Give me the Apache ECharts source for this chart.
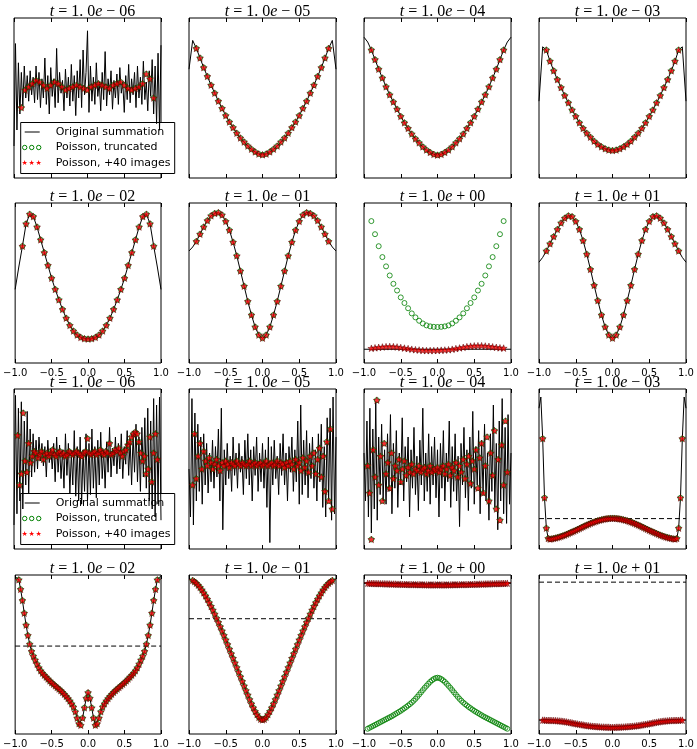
<!DOCTYPE html>
<html>
<head>
<meta charset="utf-8">
<title>Original summation vs Poisson</title>
<script src="https://cdn.jsdelivr.net/npm/echarts@6/dist/echarts.min.js"></script>
<style>
html,body{margin:0;padding:0;background:#fff}
#main{width:697px;height:749px}
</style>
</head>
<body>
<div id="main"></div>
<script>
// x grids
var xLine = [-1,-0.95,-0.9,-0.85,-0.8,-0.75,-0.7,-0.65,-0.6,-0.55,-0.5,-0.45,-0.4,-0.35,-0.3,-0.25,-0.2,-0.15,-0.1,-0.05,0,
  0.05,0.1,0.15,0.2,0.25,0.3,0.35,0.4,0.45,0.5,0.55,0.6,0.65,0.7,0.75,0.8,0.85,0.9,0.95,1];
var xBot = [-1,-0.975,-0.95,-0.925,-0.9,-0.875,-0.85,-0.825,-0.8,-0.775,-0.75,-0.725,-0.7,-0.675,-0.65,-0.625,-0.6,-0.575,-0.55,-0.525,
  -0.5,-0.475,-0.45,-0.425,-0.4,-0.375,-0.35,-0.325,-0.3,-0.275,-0.25,-0.225,-0.2,-0.175,-0.15,-0.125,-0.1,-0.075,-0.05,-0.025,0,
  0.025,0.05,0.075,0.1,0.125,0.15,0.175,0.2,0.225,0.25,0.275,0.3,0.325,0.35,0.375,0.4,0.425,0.45,0.475,0.5,
  0.525,0.55,0.575,0.6,0.625,0.65,0.675,0.7,0.725,0.75,0.775,0.8,0.825,0.85,0.875,0.9,0.925,0.95,0.975,1];
var xNoise = [-1,-0.98,-0.96,-0.94,-0.92,-0.9,-0.88,-0.86,-0.84,-0.82,-0.8,-0.78,-0.76,-0.74,-0.72,-0.7,-0.68,-0.66,-0.64,-0.62,
  -0.6,-0.58,-0.56,-0.54,-0.52,-0.5,-0.48,-0.46,-0.44,-0.42,-0.4,-0.38,-0.36,-0.34,-0.32,-0.3,-0.28,-0.26,-0.24,-0.22,
  -0.2,-0.18,-0.16,-0.14,-0.12,-0.1,-0.08,-0.06,-0.04,-0.02,0,0.02,0.04,0.06,0.08,0.1,0.12,0.14,0.16,0.18,
  0.2,0.22,0.24,0.26,0.28,0.3,0.32,0.34,0.36,0.38,0.4,0.42,0.44,0.46,0.48,0.5,0.52,0.54,0.56,0.58,
  0.6,0.62,0.64,0.66,0.68,0.7,0.72,0.74,0.76,0.78,0.8,0.82,0.84,0.86,0.88,0.9,0.92,0.94,0.96,0.98,1];
var xEnds = [-1, 1];
var xTop = xLine.slice(2, 39);   // -0.9 .. 0.9
var xMark = xBot.slice(2, 79);   // -0.95 .. 0.95

var tickValues = [-1, -0.5, 0, 0.5, 1];
var tickLabels = ['\u22121.0', '\u22120.5', '0.0', '0.5', '1.0'];
var exponents = ['\u2212 06', '\u2212 05', '\u2212 04', '\u2212 03', '\u2212 02', '\u2212 01', '+ 00', '+ 01'];
var legendNames = ['Original summation', 'Poisson, truncated', 'Poisson, +40 images'];

// top half (values in % of panel height)
var noise1_1 = [20,84,30,72,40,66,45,70,50,64, 48,67,52,63,47,70,49,66,44,62, 50,75,46,64,40,69,51,62,44,81,
  47,66,53,61,42,68,50,63,45,71, 48,64,39,67,50,74,44,80,52,66, 92,41,70,48,63,46,72,51,60,42,
  66,49,79,45,62,52,67,43,61,50, 65,46,69,53,60,41,64,49,71,47, 62,52,66,44,70,50,63,46,73,49,
  60,42,67,51,74,40,70,34,78,30, 83];
var red1_1 = [44,55,57,59,61,60,58,56,58,60,59,57,55,56,57,58,57,56,55,57,58,59,58,57,56,58,59,60,58,56,55,56,57,59,65,62,50];
var line1_2 = [68,86,81,75,69,63.5,58,53,48,43.5,39,35,31.5,28,25,22.5,20,18,16.3,15,14.5,
  15,16.3,18,20,22.5,25,28,31.5,35,39,43.5,48,53,58,63.5,69,75,81,86,68];
var line1_3 = [88,85,80,74,68,62.5,57,52,47.5,43,38.5,34.5,31,27.5,24.5,22,19.5,17.5,16,14.8,14.3,
  14.8,16,17.5,19.5,22,24.5,27.5,31,34.5,38.5,43,47.5,52,57,62.5,68,74,80,85,88];
var line1_4 = [48,82,80,73,67,61.5,56.5,51.5,47,42.5,38.5,34.5,31,28,25.5,23,21,19.5,18.3,17.5,17.2,
  17.5,18.3,19.5,21,23,25.5,28,31,34.5,38.5,42.5,47,51.5,56.5,61.5,67,73,80,82,48];
var line2_1 = [46,60,73,87,93,91.5,85,77,69,61,53,46,39.5,33.5,28,23.5,20,17.5,16,15.2,15,
  15.2,16,17.5,20,23.5,28,33.5,39.5,46,53,61,69,77,85,91.5,93,87,73,60,46];
var line2_2 = [70,72.5,76,80.5,85,89,92,93.5,94,92.5,88.5,83,75.5,67,57.5,48,38.5,30,22.5,17.5,15.5,
  17.5,22.5,30,38.5,48,57.5,67,75.5,83,88.5,92.5,94,93.5,92,89,85,80.5,76,72.5,70];
var flat2_3 = [8.6, 8.6];
var green2_3 = [88.7,80.5,73,66.2,60.4,54.7,49.5,45.3,41,37.5,34.2,31,28.5,26.4,24.7,23.5,22.9,22.6,22.5,
  22.6,22.9,23.5,24.7,26.4,28.5,31,34.2,37.5,41,45.3,49.5,54.7,60.4,66.2,73,80.5,88.7];
var red2_3 = [9.2,9.5,9.8,10,10.2,10.3,10.2,10,9.7,9.3,9,8.6,8.3,8.1,7.9,7.8,7.8,7.8,7.9,8,
  8.1,8.3,8.6,9,9.4,9.8,10.2,10.5,10.7,10.8,10.8,10.6,10.4,10.1,9.8,9.5,9.3];
var line2_4 = [63,66,70,74.5,79,83.5,87.5,90.5,92,91.5,88.5,83.5,76.5,68,58.5,48.5,39,30,22.5,17.5,15.5,
  17.5,22.5,30,39,48.5,58.5,68,76.5,83.5,88.5,91.5,92,90.5,87.5,83.5,79,74.5,70,66,63];

// bottom half
var noise3_1 = [15,96,22,88,30,92,25,80,40,86, 35,75,45,72,48,68,50,70,55,66, 52,64,45,68,54,63,50,66,42,70,
  48,65,44,62,38,72,46,66,35,60, 40,74,33,64,30,70,28,62,36,72, 30,66,34,75,38,64,32,68,40,73,
  44,62,38,67,48,76,45,63,52,70, 47,66,50,72,44,64,53,74,46,68, 40,71,48,78,42,70,36,76,45,82,
  38,88,30,80,25,94,20,90,28,95, 18];
var red3_1 = [71,40,47,85,55,48,66,54,58,61, 60,57,59,61,56,59,60,58,60,62, 59,58,60,61,59,60,58,59,61,60,
  59,60,61,60,59,58,60,61,69,60, 59,60,61,59,60,62,60,59,61,60, 66,59,60,62,61,63,60,58,61,62,
  65,67,70,72,73,72,67,60,55,58, 47,50,70,42,60,72,56];
var noise3_2 = [50,20,94,15,85,30,78,36,70,28, 72,40,66,35,60,42,68,38,64,45, 75,30,88,12,62,40,66,44,58,36,
  70,46,60,38,66,48,58,34,68,44, 72,40,62,30,64,46,70,36,60,42, 66,38,62,26,70,4,64,40,68,44,
  58,34,66,46,72,40,60,30,64,48, 70,36,62,42,80,28,90,34,68,40, 74,32,66,44,70,38,62,30,72,42,
  78,26,64,20,82,30,88,18,95,22, 70];
var red3_2 = [40,72,44,58,66,50,61,55,52,57, 54,50,53,56,52,49,54,52,55,53, 51,54,53,52,55,53,52,54,53,52,
  53,55,52,53,54,52,53,54,52,53, 55,52,53,54,52,53,55,52,54,53, 51,54,52,55,53,50,56,52,54,49,
  57,51,55,48,58,52,60,47,56,63, 45,58,36,67,30,75,25];
var noise3_3 = [60,30,80,20,88,10,75,25,92,18, 70,34,78,30,62,28,72,36,84,22, 66,38,74,26,60,40,82,30,64,42,
  70,20,62,38,76,34,58,24,68,40, 88,30,60,36,72,28,64,40,70,32, 62,20,66,38,74,30,60,42,80,26,
  64,36,72,30,58,14,66,40,76,32, 62,24,70,38,86,28,64,40,74,22, 68,34,78,30,60,18,72,36,90,26,
  66,12,80,30,94,22,76,16,84,28, 60];
var red3_3 = [52,35,6,62,45,93,40,58,30,66, 47,54,38,60,44,52,49,56,42,50, 55,46,51,48,53,47,50,49,52,48,
  50,51,47,49,52,48,50,49,51,48, 50,52,47,50,53,46,51,49,54,45, 52,48,56,44,53,58,41,55,50,62,
  38,57,66,35,52,70,30,60,46,74, 25,56,18,65,40,80,48];
var line3_4 = [88,95,69,32,13,6.6,6.2,6.4,6.6,6.9,7.2,7.5,7.9,8.3,8.7,9.2,9.7,10.2,10.7,11.2,11.7,12.3,12.8,13.4,13.9,
  14.5,15,15.5,16,16.5,16.9,17.3,17.7,18,18.3,18.6,18.8,19,19.1,19.2,19.2,
  19.2,19.1,19,18.8,18.6,18.3,18,17.7,17.3,16.9,16.5,16,15.5,15,14.5,13.9,13.4,12.8,12.3,11.7,
  11.2,10.7,10.2,9.7,9.2,8.7,8.3,7.9,7.5,7.2,6.9,6.6,6.4,6.2,6.6,13,32,69,95,88];
var line4_1 = [99,98.5,97,91,84,76,68.5,62,56.5,52,49,46.5,44,41.7,39.8,38.3,37,35.8,34.6,33.4,32.3,31.3,30.3,29.3,28.3,
  27.3,26.2,25,23.7,22.3,20.8,19,17,14,10,6.5,5.5,10,16.5,22.5,26,
  22.5,16.5,10,5.5,6.5,10,14,17,19,20.8,22.3,23.7,25,26.2,27.3,28.3,29.3,30.3,31.3,32.3,
  33.4,34.6,35.8,37,38.3,39.8,41.7,44,46.5,49,52,56.5,62,68.5,76,84,91,97,98.5,99];
var line4_2 = [97.5,97.2,96.6,95.8,94.8,93.6,92.2,90.6,88.8,86.9,84.8,82.6,80.3,77.9,75.4,72.8,70.2,67.5,64.8,62,
  59.2,56.3,53.4,50.5,47.6,44.7,41.8,38.9,36,33.1,30.2,27.3,24.5,21.7,19,16.5,14.2,12.2,10.5,9.3,8.9,
  9.3,10.5,12.2,14.2,16.5,19,21.7,24.5,27.3,30.2,33.1,36,38.9,41.8,44.7,47.6,50.5,53.4,56.3,59.2,
  62,64.8,67.5,70.2,72.8,75.4,77.9,80.3,82.6,84.8,86.9,88.8,90.6,92.2,93.6,94.8,95.8,96.6,97.2,97.5];
var line4_3 = [94.8,94.8,94.8,94.7,94.7,94.7,94.6,94.6,94.6,94.5,94.5,94.5,94.4,94.4,94.4,94.3,94.3,94.3,94.2,94.2,
  94.2,94.1,94.1,94.1,94,94,94,94,93.9,93.9,93.9,93.9,93.9,93.8,93.8,93.8,93.8,93.8,93.8,93.8,93.8,
  93.8,93.8,93.8,93.8,93.8,93.8,93.8,93.9,93.9,93.9,93.9,93.9,94,94,94,94,94.1,94.1,94.1,94.2,
  94.2,94.2,94.3,94.3,94.3,94.4,94.4,94.4,94.5,94.5,94.5,94.6,94.6,94.6,94.7,94.7,94.7,94.8,94.8,94.8];
var green4_3 = [3.3,3.9,4.5,5.1,5.7,6.3,6.9,7.5,8.1,8.7,9.3,9.9,10.5,11.1,11.8,12.5,13.2,13.9,14.6,15.4,
  16.2,17,17.9,18.8,19.8,20.9,22.1,23.4,24.8,26.2,27.6,29,30.3,31.6,32.8,33.8,34.6,35.2,35.4,
  35.2,34.6,33.8,32.8,31.6,30.3,29,27.6,26.2,24.8,23.4,22.1,20.9,19.8,18.8,17.9,17,16.2,15.4,14.6,
  13.9,13.2,12.5,11.8,11.1,10.5,9.9,9.3,8.7,8.1,7.5,6.9,6.3,5.7,5.1,4.5,3.9,3.3];
var line4_4 = [8.7,8.7,8.7,8.7,8.6,8.6,8.6,8.5,8.5,8.4,8.3,8.2,8.1,8,7.8,7.6,7.4,7.2,7,6.7,
  6.5,6.3,6.1,5.9,5.7,5.5,5.3,5.2,5,4.9,4.8,4.7,4.6,4.5,4.4,4.4,4.3,4.3,4.3,4.2,4.2,
  4.2,4.3,4.3,4.3,4.4,4.4,4.5,4.6,4.7,4.8,4.9,5,5.2,5.3,5.5,5.7,5.9,6.1,6.3,6.5,
  6.7,7,7.2,7.4,7.6,7.8,8,8.1,8.2,8.3,8.4,8.5,8.5,8.6,8.6,8.6,8.7,8.7,8.7,8.7];
var dash3_4 = 19, dash4_1 = 55.3, dash4_2 = 72.5, dash4_3 = 95, dash4_4 = 95.5;

var panels = [
  {e: 0, line: [xNoise, noise1_1], red: [xTop, red1_1], green: [xTop, red1_1], legend: true},
  {e: 1, line: [xLine, line1_2], red: [xTop, line1_2.slice(2, 39)], green: [xTop, line1_2.slice(2, 39)]},
  {e: 2, line: [xLine, line1_3], red: [xTop, line1_3.slice(2, 39)], green: [xTop, line1_3.slice(2, 39)]},
  {e: 3, line: [xLine, line1_4], red: [xTop, line1_4.slice(2, 39)], green: [xTop, line1_4.slice(2, 39)]},
  {e: 4, line: [xLine, line2_1], red: [xTop, line2_1.slice(2, 39)], green: [xTop, line2_1.slice(2, 39)]},
  {e: 5, line: [xLine, line2_2], red: [xTop, line2_2.slice(2, 39)], green: [xTop, line2_2.slice(2, 39)]},
  {e: 6, line: [xEnds, flat2_3], red: [xTop, red2_3], green: [xTop, green2_3]},
  {e: 7, line: [xLine, line2_4], red: [xTop, line2_4.slice(2, 39)], green: [xTop, line2_4.slice(2, 39)]},
  {e: 0, line: [xNoise, noise3_1], red: [xMark, red3_1], green: [xMark, red3_1], legend: true},
  {e: 1, line: [xNoise, noise3_2], red: [xMark, red3_2], green: [xMark, red3_2]},
  {e: 2, line: [xNoise, noise3_3], red: [xMark, red3_3], green: [xMark, red3_3]},
  {e: 3, line: [xBot, line3_4], red: [xMark, line3_4.slice(2, 79)], green: [xMark, line3_4.slice(2, 79)], dash: dash3_4},
  {e: 4, line: [xBot, line4_1], red: [xMark, line4_1.slice(2, 79)], green: [xMark, line4_1.slice(2, 79)], dash: dash4_1},
  {e: 5, line: [xBot, line4_2], red: [xMark, line4_2.slice(2, 79)], green: [xMark, line4_2.slice(2, 79)], dash: dash4_2},
  {e: 6, line: [xBot, line4_3], red: [xMark, line4_3.slice(2, 79)], green: [xMark, green4_3], dash: dash4_3},
  {e: 7, line: [xBot, line4_4], red: [xMark, line4_4.slice(2, 79)], dash: dash4_4}
];

var colLeft = [14, 189, 364, 539], rowTop = [18, 203, 389, 575];
var W = 147, H = 160;
var STAR = 'path://M0,-10L2.35,-3.24L9.51,-3.09L3.8,1.24L5.88,8.09L0,4L-5.88,8.09L-3.8,1.24L-9.51,-3.09L-2.35,-3.24Z';
var FONT = 'DejaVu Sans';
var SERIF = 'Liberation Serif';

function pairs(xs, ys) {
  return xs.map(function (x, i) { return [x, ys[i]]; });
}

var grids = [], xAxes = [], yAxes = [], titles = [], series = [], graphics = [];

panels.forEach(function (p, k) {
  var r = Math.floor(k / 4), c = k % 4;
  var left = colLeft[c], top = rowTop[r];
  grids.push({left: left, top: top, width: W, height: H, show: true,
    borderColor: '#000', borderWidth: 1, backgroundColor: 'transparent'});
  var tick = {show: true, inside: true, length: 4, lineStyle: {color: '#000', width: 1}};
  xAxes.push({gridIndex: k, type: 'value', min: -1, max: 1, interval: 0.5,
    axisLine: {show: false}, splitLine: {show: false}, axisTick: tick,
    axisLabel: {show: r % 2 === 1, margin: 5, color: '#000', fontFamily: FONT, fontSize: 10,
      formatter: function (v) { return tickLabels[tickValues.indexOf(v)]; }}});
  xAxes.push({gridIndex: k, type: 'value', position: 'top', min: -1, max: 1, interval: 0.5,
    axisLine: {show: false}, splitLine: {show: false}, axisTick: tick, axisLabel: {show: false}});
  yAxes.push({gridIndex: k, type: 'value', min: 0, max: 100, show: false});

  titles.push({
    text: '{i|t}{r| = 1. 0}{i|e}{r| ' + exponents[p.e] + '}',
    left: left + W / 2, top: top - 19, textAlign: 'center',
    textStyle: {fontWeight: 'normal', fontFamily: SERIF, fontSize: 16, rich: {
      i: {fontFamily: SERIF, fontStyle: 'italic', fontWeight: 'normal', fontSize: 16, color: '#000'},
      r: {fontFamily: SERIF, fontWeight: 'normal', fontSize: 16, color: '#000'}
    }}
  });

  series.push({type: 'line', name: legendNames[0], xAxisIndex: 2 * k, yAxisIndex: k,
    data: pairs(p.line[0], p.line[1]), showSymbol: false, symbol: 'none', z: 2,
    lineStyle: {color: '#000', width: 1}, animation: false});
  if (p.dash !== undefined) {
    series.push({type: 'line', xAxisIndex: 2 * k, yAxisIndex: k,
      data: pairs(xEnds, [p.dash, p.dash]), symbol: 'none', z: 2,
      lineStyle: {color: '#000', width: 1, type: [5, 3]}, animation: false});
  }
  if (p.green) {
    series.push({type: 'scatter', name: legendNames[1], xAxisIndex: 2 * k, yAxisIndex: k,
      data: pairs(p.green[0], p.green[1]), symbol: 'circle', symbolSize: 5, z: 3,
      itemStyle: {color: 'rgba(0,0,0,0)', borderColor: '#008000', borderWidth: 1}, animation: false});
  }
  series.push({type: 'scatter', name: legendNames[2], xAxisIndex: 2 * k, yAxisIndex: k,
    data: pairs(p.red[0], p.red[1]), symbol: STAR, symbolKeepAspect: true, symbolSize: 7, z: 4,
    itemStyle: {color: '#ff0000', borderColor: '#500000', borderWidth: 0.6}, animation: false});

  if (p.legend) {
    var lx = left + 6, ly = top + H - 56;
    graphics.push({type: 'group', left: lx, top: ly, z: 100, children: [
      {type: 'rect', shape: {x: 0, y: 0, width: 154, height: 51},
        style: {fill: '#fff', stroke: '#000', lineWidth: 1}},
      {type: 'line', shape: {x1: 4, y1: 9.5, x2: 19, y2: 9.5}, style: {stroke: '#000', lineWidth: 1}},
      {type: 'circle', shape: {cx: 4, cy: 25, r: 2.2}, style: {fill: 'none', stroke: '#008000', lineWidth: 1}},
      {type: 'circle', shape: {cx: 11, cy: 25, r: 2.2}, style: {fill: 'none', stroke: '#008000', lineWidth: 1}},
      {type: 'circle', shape: {cx: 18, cy: 25, r: 2.2}, style: {fill: 'none', stroke: '#008000', lineWidth: 1}},
      {type: 'text', x: 4, y: 41, style: {text: '\u2605', fill: '#ff0000', font: '7px DejaVu Sans', textAlign: 'center', textVerticalAlign: 'middle'}},
      {type: 'text', x: 11, y: 41, style: {text: '\u2605', fill: '#ff0000', font: '7px DejaVu Sans', textAlign: 'center', textVerticalAlign: 'middle'}},
      {type: 'text', x: 18, y: 41, style: {text: '\u2605', fill: '#ff0000', font: '7px DejaVu Sans', textAlign: 'center', textVerticalAlign: 'middle'}},
      {type: 'text', x: 35, y: 9.5, style: {text: legendNames[0], fill: '#000', font: '11px DejaVu Sans', textVerticalAlign: 'middle'}},
      {type: 'text', x: 35, y: 25, style: {text: legendNames[1], fill: '#000', font: '11px DejaVu Sans', textVerticalAlign: 'middle'}},
      {type: 'text', x: 35, y: 41, style: {text: legendNames[2], fill: '#000', font: '11px DejaVu Sans', textVerticalAlign: 'middle'}}
    ]});
  }
});

var chart = echarts.init(document.getElementById('main'), null, {renderer: 'canvas'});
chart.setOption({
  animation: false,
  backgroundColor: '#fff',
  title: titles,
  grid: grids,
  xAxis: xAxes,
  yAxis: yAxes,
  series: series,
  graphic: graphics
});
</script>
</body>
</html>
